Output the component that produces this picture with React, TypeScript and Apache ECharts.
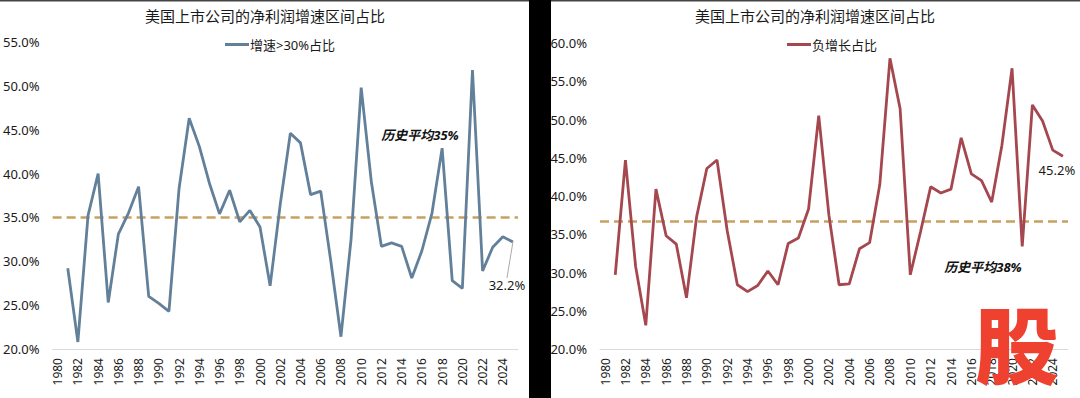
import React, { useEffect, useRef } from "react";
import * as echarts from "echarts";

const years = [
  "1980", "1981", "1982", "1983", "1984", "1985", "1986", "1987", "1988", "1989",
  "1990", "1991", "1992", "1993", "1994", "1995", "1996", "1997", "1998", "1999",
  "2000", "2001", "2002", "2003", "2004", "2005", "2006", "2007", "2008", "2009",
  "2010", "2011", "2012", "2013", "2014", "2015", "2016", "2017", "2018", "2019",
  "2020", "2021", "2022", "2023", "2024", "2025",
];

// 增速>30%占比 (%)
const highGrowthShare: (number | null)[] = [
  null, 29.2, 20.8, 35.2, 40.0, 25.3, 33.1, 35.5, 38.5, 26.0,
  25.2, 24.3, 38.3, 46.3, 43.1, 38.9, 35.4, 38.1, 34.5, 35.8,
  33.9, 27.2, 36.5, 44.6, 43.5, 37.6, 38.0, 30.0, 21.4, 32.5,
  49.8, 39.1, 31.7, 32.1, 31.7, 28.1, 31.2, 35.5, 42.9, 27.8,
  26.9, 51.8, 28.9, 31.6, 32.8, 32.2,
];

// 负增长占比 (%)
const negativeGrowthShare: (number | null)[] = [
  null, 29.7, 44.7, 30.8, 23.1, 40.9, 34.8, 33.7, 26.7, 37.3,
  43.6, 44.7, 35.5, 28.4, 27.5, 28.3, 30.2, 28.4, 33.8, 34.5,
  38.3, 50.5, 37.5, 28.4, 28.5, 33.1, 33.9, 41.5, 58.0, 51.4,
  29.7, 35.3, 41.2, 40.4, 40.9, 47.6, 42.9, 42.0, 39.2, 46.6,
  56.7, 33.4, 51.9, 49.8, 46.0, 45.2,
];

const highAvgLine = 35.0;
const negAvgLine = 36.7;
const highAvgText = "历史平均35%";
const negAvgText = "历史平均38%";
const chartTitle = "美国上市公司的净利润增速区间占比";
const highName = "增速>30%占比";
const negName = "负增长占比";

const FONT = "'Noto Sans', 'Noto Sans CJK SC', sans-serif";
const TXT = "#1a1a1a";
const BLUE = "#62809A";
const RED = "#A5474F";
const GOLD = "#C8A062";

function lastLabelData(vals: (number | null)[], labelCfg: any) {
  return vals.map((v, i) =>
    i === vals.length - 1 && v != null
      ? { value: v, label: { show: true, formatter: v.toFixed(1) + "%", ...labelCfg } }
      : v
  );
}

export default function App() {
  const ref = useRef<HTMLDivElement>(null);
  useEffect(() => {
    if (!ref.current) return;
    const chart = echarts.init(ref.current, undefined, { renderer: "svg" });
    const xAxisBase = (gridIndex: number) => ({
      gridIndex,
      type: "category" as const,
      data: years,
      boundaryGap: true,
      axisLine: { lineStyle: { color: "#d9d9d9", width: 1 } },
      axisTick: { show: false },
      axisLabel: { rotate: 90, interval: 1, fontSize: 12, color: TXT, margin: 9, fontFamily: FONT },
      splitLine: { show: false },
    });
    const yAxisBase = (gridIndex: number, max: number) => ({
      gridIndex,
      type: "value" as const,
      min: 20,
      max,
      interval: 5,
      axisLine: { show: false },
      axisTick: { show: false },
      splitLine: { show: false },
      axisLabel: {
        fontSize: 13,
        color: TXT,
        margin: 13,
        fontFamily: FONT,
        formatter: (v: number) => v.toFixed(1) + "%",
      },
    });
    const markLine = (v: number) => ({
      silent: true,
      symbol: ["none", "none"],
      label: { show: false },
      lineStyle: { type: [9, 5], color: GOLD, width: 2.5 },
      data: [{ yAxis: v }],
      z: 1,
    });
    chart.setOption({
      animation: false,
      backgroundColor: "#ffffff",
      grid: [
        { left: 51, top: 42, width: 467, height: 307 },
        { left: 600, top: 43, width: 468, height: 306 },
      ],
      legend: [
        {
          data: [highName],
          left: 220,
          top: 33,
          icon: "rect",
          itemWidth: 24,
          itemHeight: 3,
          textStyle: { fontSize: 13, color: TXT, fontFamily: FONT, padding: [0, 0, 0, -4] },
        },
        {
          data: [negName],
          left: 782,
          top: 33,
          icon: "rect",
          itemWidth: 24,
          itemHeight: 3,
          textStyle: { fontSize: 13, color: TXT, fontFamily: FONT, padding: [0, 0, 0, -4] },
        },
      ],
      xAxis: [xAxisBase(0), xAxisBase(1)],
      yAxis: [yAxisBase(0, 55), yAxisBase(1, 60)],
      series: [
        {
          name: highName,
          type: "line",
          xAxisIndex: 0,
          yAxisIndex: 0,
          symbol: "circle",
          symbolSize: 0.01,
          showSymbol: true,
          color: BLUE,
          lineStyle: { width: 2.8, color: BLUE },
          z: 3,
          data: lastLabelData(highGrowthShare, {
            position: "bottom",
            distance: 5,
            fontSize: 13,
            color: TXT,
            fontFamily: FONT,
          }),
          labelLayout: (p: any) => (p.dataIndex === years.length - 1 ? { dx: -6, dy: 31 } : {}),
          labelLine: { show: true, lineStyle: { color: "#aaaaaa", width: 1 } },
          markLine: markLine(highAvgLine),
        },
        {
          name: negName,
          type: "line",
          xAxisIndex: 1,
          yAxisIndex: 1,
          symbol: "circle",
          symbolSize: 0.01,
          showSymbol: true,
          color: RED,
          lineStyle: { width: 2.8, color: RED },
          z: 3,
          data: lastLabelData(negativeGrowthShare, {
            position: "bottom",
            distance: 7,
            offset: [-6, 0],
            fontSize: 13,
            color: TXT,
            fontFamily: FONT,
          }),
          markLine: markLine(negAvgLine),
        },
      ],
      graphic: [
        { type: "rect", shape: { x: 0, y: 0, width: 1080, height: 1.5 }, style: { fill: "#444" }, z: 50 },
        { type: "rect", shape: { x: 529, y: 0, width: 22, height: 398 }, style: { fill: "#000" }, z: 50 },
        {
          type: "text",
          x: 265,
          y: 16,
          style: { text: chartTitle, fontSize: 15, fill: TXT, fontFamily: FONT, align: "center", verticalAlign: "middle" },
        },
        {
          type: "text",
          x: 815,
          y: 16,
          style: { text: chartTitle, fontSize: 15, fill: TXT, fontFamily: FONT, align: "center", verticalAlign: "middle" },
        },
        {
          type: "text",
          x: 420,
          y: 135,
          style: {
            text: highAvgText,
            fontSize: 13,
            fontWeight: "bold",
            fontStyle: "italic",
            fill: "#111",
            fontFamily: FONT,
            align: "center",
            verticalAlign: "middle",
          },
        },
        {
          type: "text",
          x: 983,
          y: 267,
          style: {
            text: negAvgText,
            fontSize: 13,
            fontWeight: "bold",
            fontStyle: "italic",
            fill: "#111",
            fontFamily: FONT,
            align: "center",
            verticalAlign: "middle",
          },
        },
        {
          type: "text",
          x: 1017,
          y: 341,
          z: 100,
          style: {
            text: "股",
            fontSize: 84,
            fontWeight: 900,
            fill: "#EE4130",
            fontFamily: "'Noto Sans CJK SC', sans-serif",
            align: "center",
            verticalAlign: "middle",
          },
        },
      ],
    });
    return () => chart.dispose();
  }, []);
  return (
    <div
      ref={ref}
      style={{ position: "absolute", left: 0, top: 0, width: 1080, height: 398, background: "#fff" }}
    />
  );
}
